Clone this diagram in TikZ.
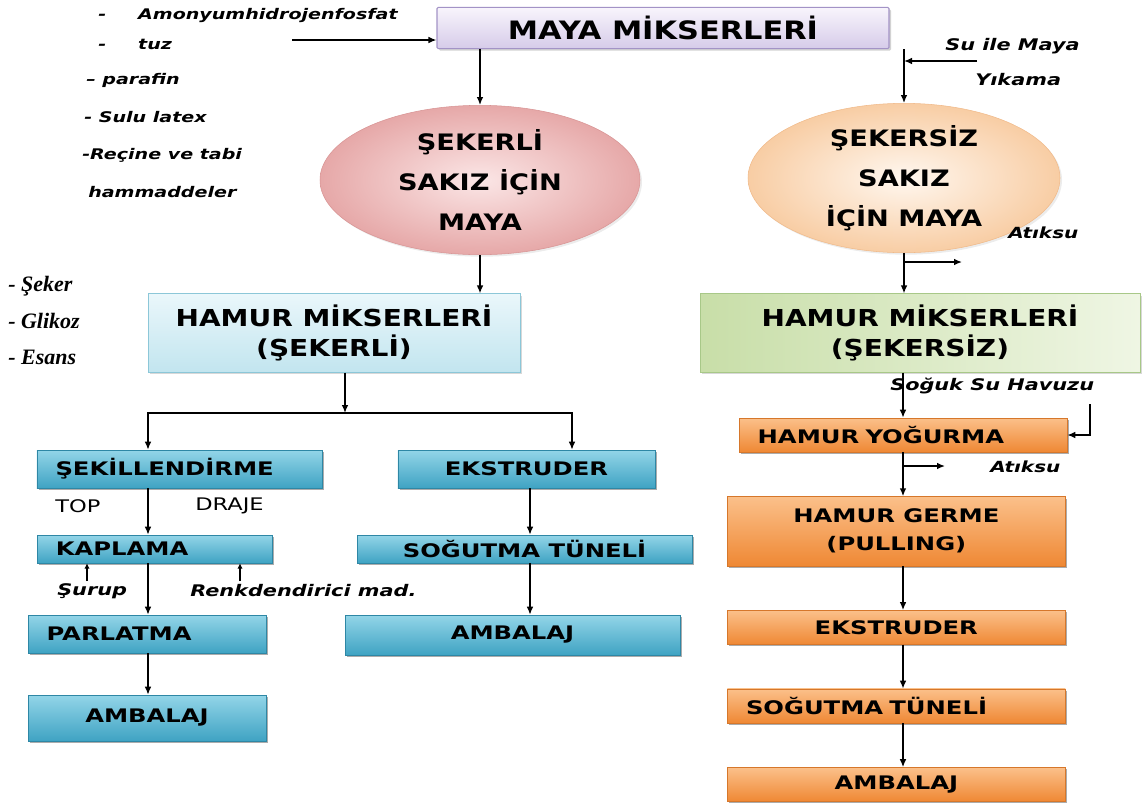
\documentclass[tikz,border=0pt]{standalone}
\usepackage{fontspec}
\setmainfont{DejaVu Sans}
\newfontfamily\titlefont[FakeStretch=1.2]{DejaVu Sans}
\newfontfamily\boxfont[FakeStretch=1.3]{DejaVu Sans}
\newfontfamily\sekerfont{Liberation Serif}
\usetikzlibrary{arrows.meta,positioning,shapes.geometric,shadows}

\definecolor{mayatop}{HTML}{F8F5FC}
\definecolor{mayabot}{HTML}{D6CBE9}
\definecolor{mayaline}{HTML}{A393C6}
\definecolor{pinkin}{HTML}{FBE6E6}
\definecolor{pinkout}{HTML}{E6A8A8}
\definecolor{pinkline}{HTML}{D89494}
\definecolor{peachin}{HTML}{FFF7EF}
\definecolor{peachout}{HTML}{F8CDA4}
\definecolor{peachline}{HTML}{F0BA8A}
\definecolor{lbtop}{HTML}{EAF7FB}
\definecolor{lbbot}{HTML}{C2E5EF}
\definecolor{lbline}{HTML}{8CC7D8}
\definecolor{lgleft}{HTML}{C8DEA8}
\definecolor{lgright}{HTML}{EFF6E4}
\definecolor{lgline}{HTML}{A8C888}
\definecolor{bluetop}{HTML}{93D5E8}
\definecolor{bluebot}{HTML}{3FA3C3}
\definecolor{blueline}{HTML}{2E87A5}
\definecolor{orgtop}{HTML}{FBC08A}
\definecolor{orgbot}{HTML}{EF8834}
\definecolor{orgline}{HTML}{D6772B}

\begin{document}
\begin{tikzpicture}[x=0.75pt,y=-0.75pt,
  arrow/.style={-{Latex[length=6pt,width=5pt]},line width=1.1pt},
  tip/.style={-{Latex[length=4pt,width=4pt]},line width=0.8pt},
  shade/.style={drop shadow={shadow xshift=1.5pt,shadow yshift=-1.5pt,fill=black!#1}},
  mayabox/.style={draw=mayaline,line width=0.8pt,top color=mayatop,bottom color=mayabot,
    rounded corners=1pt,shade=35,minimum width=339pt,minimum height=31pt,
    font=\titlefont\bfseries\fontsize{19}{22}\selectfont},
  pinkell/.style={ellipse,draw=pinkline,inner color=pinkin,outer color=pinkout,inner sep=0pt,
    minimum width=240pt,minimum height=112pt,align=center,shade=15,
    font=\titlefont\bfseries\fontsize{17}{30}\selectfont},
  peachell/.style={pinkell,draw=peachline,inner color=peachin,outer color=peachout,
    minimum width=234pt},
  lightblue/.style={draw=lbline,top color=lbtop,bottom color=lbbot,align=center,shade=30,
    minimum width=279pt,minimum height=59pt,
    font=\titlefont\bfseries\fontsize{17.5}{22.5}\selectfont},
  lightgreen/.style={lightblue,draw=lgline,left color=lgleft,right color=lgright,
    minimum width=330pt},
  bluebox/.style={draw=blueline,top color=bluetop,bottom color=bluebot,align=center,
    inner ysep=2pt,shade=65,font=\boxfont\bfseries\fontsize{14}{21}\selectfont},
  orangebox/.style={bluebox,draw=orgline,top color=orgtop,bottom color=orgbot},
  leftset/.style={align=left,text width=#1,inner xsep=14pt},
  note/.style={anchor=west,inner sep=0pt,font=\boxfont\bfseries\itshape\fontsize{#1}{14}\selectfont},
  sweet/.style={anchor=west,inner sep=0pt,font=\sekerfont\bfseries\itshape\fontsize{16.5}{18}\selectfont},
  plain/.style={anchor=west,inner sep=0pt,font=\boxfont\fontsize{13}{16}\selectfont},
  node distance=33pt
]
\useasboundingbox (0,0) rectangle (1142,808);

% main nodes
\node[mayabox] (maya) at (663,28) {MAYA MİKSERLERİ};
\node[pinkell] (sell) at (480,180) {ŞEKERLİ\\SAKIZ İÇİN\\MAYA};
\node[peachell] (rell) at (904,178) {ŞEKERSİZ\\SAKIZ\\İÇİN MAYA};
\node[lightblue] (hml) at (334,333) {HAMUR MİKSERLERİ\\(ŞEKERLİ)};
\node[lightgreen] (hmr) at (920,333) {HAMUR MİKSERLERİ\\(ŞEKERSİZ)};

% sekerli line
\node[bluebox,leftset=186pt,minimum height=28.5pt] (sek) at (179.5,469) {ŞEKİLLENDİRME};
\node[bluebox,minimum width=193pt,minimum height=28.5pt] (eks) at (526.5,469) {EKSTRUDER};
\node[bluebox,leftset=148pt,minimum height=21pt] (kap) at (154.5,549) {KAPLAMA};
\node[bluebox,minimum width=251pt,minimum height=21pt] (sog) at (524.5,549) {SOĞUTMA TÜNELİ};
\node[bluebox,leftset=150.5pt,minimum height=28.5pt] (par) at (147,634) {PARLATMA};
\node[bluebox,minimum width=251pt,minimum height=30pt] (amb) at (512.5,635) {AMBALAJ};
\node[bluebox,minimum width=178.5pt,minimum height=34.5pt] (amb2) at (147,718) {AMBALAJ};

% sekersiz line
\node[orangebox,leftset=218pt,minimum height=25.5pt] (hy) at (903,435) {HAMUR YOĞURMA};
\node[orangebox,minimum width=253.5pt,minimum height=52pt,below=33pt of hy,xshift=-5pt] (hg) {HAMUR GERME\\(PULLING)};
\node[orangebox,minimum width=253.5pt,minimum height=25.5pt,below=of hg] (eo) {EKSTRUDER};
\node[orangebox,leftset=225.5pt,minimum height=25.5pt,below=of eo] (so) {SOĞUTMA TÜNELİ};
\node[orangebox,minimum width=253.5pt,minimum height=25.5pt,below=of so] (ao) {AMBALAJ};

% side notes
\node[note=11] (n1) at (98,16) {-\hspace{24pt}Amonyumhidrojenfosfat};
\node[note=11] (n2) at (98,44) {-\hspace{24pt}tuz};
\node[note=11] (n3) at (86,80) {– parafin};
\node[note=11] (n4) at (84,117) {- Sulu latex};
\node[note=11] (n5) at (82,155) {-Reçine ve tabi};
\node[note=11] (n6) at (88,192) {hammaddeler};
\node[note=12] (su) at (945,46) {Su ile Maya};
\node[note=12] (yk) at (975,80) {Yıkama};
\node[note=11.5] (at1) at (1008,233) {Atıksu};
\node[note=12] (ss) at (890,386) {Soğuk Su Havuzu};
\node[note=11.5] (at2) at (990,467) {Atıksu};
\node[sweet] (s1) at (8,286) {- Şeker};
\node[sweet] (s2) at (8,321) {- Glikoz};
\node[sweet] (s3) at (8,357) {- Esans};
\node[plain] (top) at (55,506) {TOP};
\node[plain] (drj) at (195,506) {DRAJE};
\node[note=12] (sr) at (57,591) {Şurup};
\node[note=12] (rk) at (190,591) {Renkdendirici mad.};

% axes and branch points
\coordinate (lx) at (148,0);
\coordinate (mx) at (530,0);
\coordinate (bx) at (572,0);
\coordinate (rx) at (903,0);
\coordinate (br) at (345,413);
\coordinate (lst) at (292,40);
\coordinate (sw) at (977,61);
\coordinate (w1) at (962,262);
\coordinate (w2) at (945,466);
\coordinate (sv) at (1090,404);
\coordinate (t1) at (87,581);
\coordinate (t2) at (240,581);

% connectors
\draw[arrow] (lst) -- (lst -| maya.west);
\draw[arrow] (sell.north |- maya.south) -- (sell.north);
\draw[arrow] (rell.north |- maya.south) -- (rell.north);
\draw[arrow] (sw) -- (sw -| rell.north);
\draw[arrow] (sell.south) -- (sell.south |- hml.north);
\draw[arrow] (rell.south) -- (rell.south |- hmr.north);
\draw[arrow] (w1 -| rell.south) -- (w1);
\draw[arrow] (hml.south -| br) -- (br);
\draw[arrow] (br) -| (sek.north -| lx);
\draw[arrow] (br) -| (eks.north -| bx);
\draw[arrow] (sek.south -| lx) -- (kap.north -| lx);
\draw[arrow] (kap.south -| lx) -- (par.north -| lx);
\draw[arrow] (par.south -| lx) -- (amb2.north -| lx);
\draw[tip] (t1) -- (t1 |- kap.south);
\draw[tip] (t2) -- (t2 |- kap.south);
\draw[arrow] (eks.south -| mx) -- (sog.north -| mx);
\draw[arrow] (sog.south -| mx) -- (amb.north -| mx);
\draw[arrow] (hmr.south -| rx) -- (hy.north -| rx);
\draw[arrow] (sv) |- (hy.east);
\draw[arrow] (hy.south -| rx) -- (hg.north -| rx);
\draw[arrow] (w2 -| rx) -- (w2);
\draw[arrow] (hg.south -| rx) -- (eo.north -| rx);
\draw[arrow] (eo.south -| rx) -- (so.north -| rx);
\draw[arrow] (so.south -| rx) -- (ao.north -| rx);
\end{tikzpicture}
\end{document}
